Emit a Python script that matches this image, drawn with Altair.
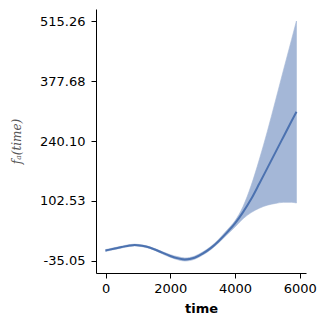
import altair as alt
import pandas as pd

time = [0, 250, 500, 750, 900, 1000, 1250, 1500, 1750, 2000, 2250, 2450, 2750,
        3000, 3250, 3500, 3750, 4000, 4250, 4500, 4750, 5000, 5250, 5500, 5750, 5900]
mean = [-11, -7, -3, 0.5, 1.5, 1, -2, -8, -16, -23.5, -29, -31.5, -27.5,
        -18, -5.5, 11, 30, 51, 77, 107, 142, 178, 214, 250, 286, 307]
lower = [-13, -9, -5, -1.5, -0.5, -1, -4, -10, -18.5, -26.5, -32.5, -35.05, -31,
         -21.5, -9, 7, 25, 43, 62, 76, 86, 93, 97, 99.5, 99.5, 98]
upper = [-9, -5, -1, 2.5, 3.5, 3, 0, -6, -13.5, -20.5, -25.5, -28, -24,
         -14.5, -2, 15, 35.5, 57, 90, 138, 197, 262, 332, 403, 473, 515.26]

y_ticks = [-35.05, 102.53, 240.10, 377.68, 515.26]
x_ticks = [0, 2000, 4000, 6000]

df = pd.DataFrame({"time": time, "mean": mean, "lower": lower, "upper": upper})

color = "#4c72b0"
xscale = alt.Scale(domain=[-295, 6195], nice=False, zero=False)
yscale = alt.Scale(domain=[-62.57, 542.78], nice=False, zero=False)

xaxis = alt.Axis(values=x_ticks, format="d", title="time", titleFontWeight="bold",
                 titleFontSize=13, titleFont="DejaVu Sans", titleColor="black",
                 titleY=39, titleBaseline="alphabetic", labelPadding=4)
yaxis = alt.Axis(values=y_ticks,
                 labelExpr="replace(format(datum.value, '.2f'), '\u2212', '-')",
                 title="f\u2090(time)", titleFont="DejaVu Serif", titleFontStyle="italic",
                 titleFontWeight="normal", titleFontSize=12, titleColor="#555555",
                 titleX=-73, titleY=132, titleAngle=270, titleBaseline="bottom",
                 titleAlign="center", labelPadding=6)

band = alt.Chart(df).mark_area(color=color, opacity=0.5, interpolate="monotone",
                               stroke=color, strokeWidth=1, strokeOpacity=0.6).encode(
    x=alt.X("time:Q", scale=xscale, axis=xaxis),
    y=alt.Y("lower:Q", scale=yscale, axis=yaxis),
    y2="upper:Q",
)
line = alt.Chart(df).mark_line(color=color, strokeWidth=2, interpolate="monotone").encode(
    x=alt.X("time:Q", scale=xscale),
    y=alt.Y("mean:Q", scale=yscale),
)

chart = alt.layer(band, line).properties(
    width=210, height=264,
    autosize=alt.AutoSizeParams(type="none"),
    padding={"left": 88, "top": 1, "right": 12, "bottom": 45},
).configure_view(stroke=None).configure_axis(
    grid=False, domainColor="black", tickColor="black", labelColor="black",
    labelFont="DejaVu Sans", labelFontSize=13, tickSize=5, domainWidth=1, tickWidth=1,
)

chart.save("out.html", embed_options={"renderer": "svg", "actions": False})
